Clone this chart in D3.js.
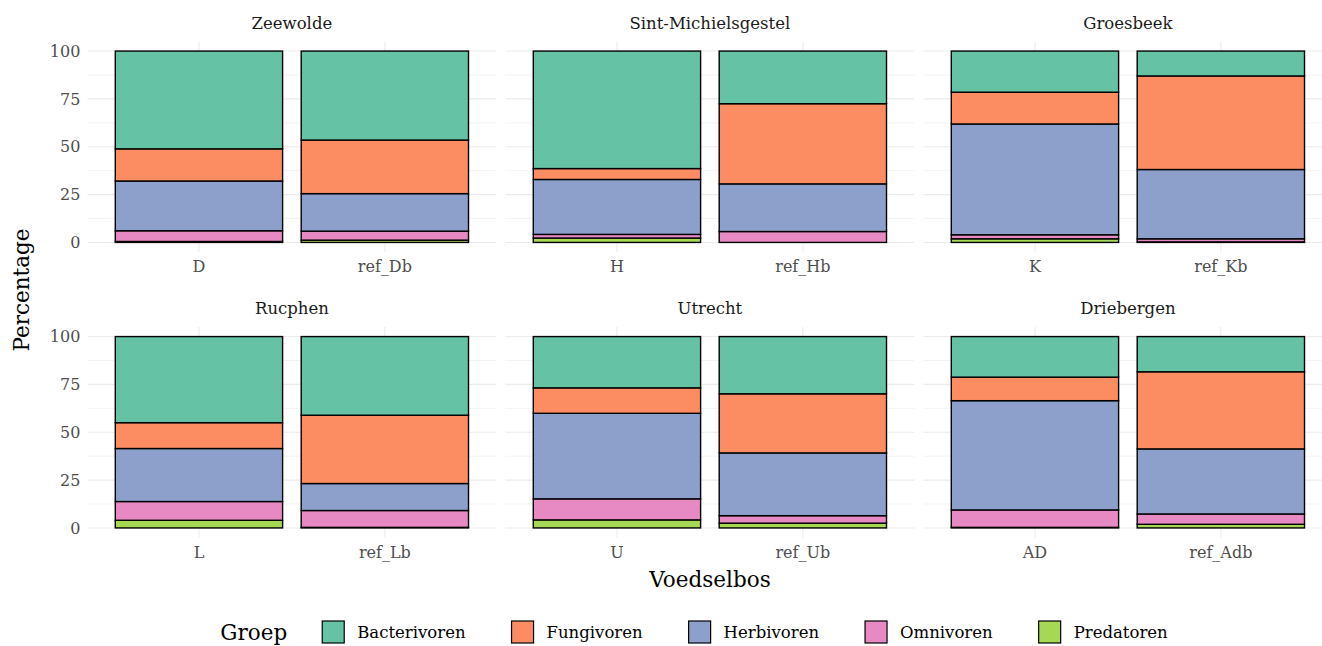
<!DOCTYPE html>
<html>
<head>
<meta charset="utf-8">
<script src="https://cdn.jsdelivr.net/npm/d3@7"></script>
<style>
  html, body { margin: 0; padding: 0; background: #fff; }
  svg { display: block; }
</style>
</head>
<body>
<svg id="chart" width="1322" height="646"></svg>
<script>
// ---- data ----
const sites = ["Zeewolde", "Sint-Michielsgestel", "Groesbeek", "Rucphen", "Utrecht", "Driebergen"];
const bossen = ["D", "ref_Db", "H", "ref_Hb", "K", "ref_Kb", "L", "ref_Lb", "U", "ref_Ub", "AD", "ref_Adb"];
const groepen = ["Bacterivoren", "Fungivoren", "Herbivoren", "Omnivoren", "Predatoren"];
const bacterivoren = [51.1, 46.5, 61.4, 27.5, 21.5, 13.0, 45.0, 41.1, 26.8, 29.9, 21.2, 18.4];
const fungivoren   = [16.8, 28.0, 5.7, 41.9, 16.6, 48.9, 13.5, 35.7, 13.3, 30.9, 12.3, 40.3];
const herbivoren   = [26.0, 19.6, 28.7, 24.9, 57.9, 36.2, 27.7, 14.1, 44.7, 32.8, 57.1, 34.0];
const omnivoren    = [5.6, 4.7, 1.9, 5.7, 2.1, 1.6, 9.8, 8.8, 11.0, 3.9, 9.1, 5.4];
const predatoren   = [0.5, 1.2, 2.3, 0.0, 1.9, 0.3, 4.0, 0.3, 4.2, 2.5, 0.3, 1.9];
const yTicks = [0, 25, 50, 75, 100];
const yMinor = [12.5, 37.5, 62.5, 87.5];

const colors = ["#66c2a5", "#fc8d62", "#8da0cb", "#e78ac3", "#a6d854"];
const seriesVals = [bacterivoren, fungivoren, herbivoren, omnivoren, predatoren];

const rows = bossen.map((b, i) => {
  const r = { bos: b, site: sites[Math.floor(i / 2)] };
  groepen.forEach((g, k) => r[g] = seriesVals[k][i]);
  return r;
});

const FONT = "'DejaVu Serif', 'Liberation Serif', serif";
const svg = d3.select("#chart");
const color = d3.scaleOrdinal().domain(groepen).range(colors);

// stacking: Predatoren at bottom, Bacterivoren on top
const stackKeys = groepen.slice().reverse();
const stack = d3.stack().keys(stackKeys);

// ---- layout ----
const panelW = 409, panelStep = 418, panelLeft0 = 87.4;
const rowTop = [41.5, 327], panelH = 210.5;

sites.forEach((site, si) => {
  const col = si % 3, row = Math.floor(si / 3);
  const x0 = panelLeft0 + col * panelStep;
  const top = rowTop[row];
  const cats = [bossen[si * 2], bossen[si * 2 + 1]];
  const data = rows.filter(r => r.site === site);

  const x = d3.scaleBand().domain(cats).range([x0, x0 + panelW]).paddingInner(0.1).paddingOuter(0.15);
  const y = d3.scaleLinear().domain([-5, 105]).range([top + panelH, top]);

  const g = svg.append("g");
  g.selectAll(".minor").data(yMinor).join("line")
    .attr("x1", x0).attr("x2", x0 + panelW)
    .attr("y1", d => y(d)).attr("y2", d => y(d))
    .attr("stroke", "#ebebeb").attr("stroke-width", 0.6);
  g.selectAll(".major").data(yTicks).join("line")
    .attr("x1", x0).attr("x2", x0 + panelW)
    .attr("y1", d => y(d)).attr("y2", d => y(d))
    .attr("stroke", "#ebebeb").attr("stroke-width", 1.1);
  g.selectAll(".vmajor").data(cats).join("line")
    .attr("x1", d => x(d) + x.bandwidth() / 2).attr("x2", d => x(d) + x.bandwidth() / 2)
    .attr("y1", top).attr("y2", top + panelH)
    .attr("stroke", "#ebebeb").attr("stroke-width", 1.1);

  const stacked = stack(data);
  stacked.forEach(layer => {
    g.append("g").selectAll("rect").data(layer).join("rect")
      .attr("x", d => x(d.data.bos))
      .attr("width", x.bandwidth())
      .attr("y", d => y(d[1]))
      .attr("height", d => Math.max(0, y(d[0]) - y(d[1])))
      .attr("fill", color(layer.key))
      .attr("stroke", "#000").attr("stroke-width", 1.4);
  });

  svg.append("text").attr("x", x0 + panelW / 2).attr("y", top - 13)
    .attr("text-anchor", "middle").attr("font-family", FONT).attr("font-size", 16.5)
    .attr("fill", "#1a1a1a").text(site);

  g.selectAll(".xt").data(cats).join("text")
    .attr("x", d => x(d) + x.bandwidth() / 2).attr("y", top + panelH + 20)
    .attr("text-anchor", "middle").attr("font-family", FONT).attr("font-size", 16)
    .attr("fill", "#4d4d4d").text(d => d);

  if (col === 0) {
    g.selectAll(".yt").data(yTicks).join("text")
      .attr("x", x0 - 7).attr("y", d => y(d)).attr("dy", "0.35em")
      .attr("text-anchor", "end").attr("font-family", FONT).attr("font-size", 16)
      .attr("fill", "#4d4d4d").text(d => d);
  }
});

// axis titles
svg.append("text").attr("x", 710).attr("y", 587)
  .attr("text-anchor", "middle").attr("font-family", FONT).attr("font-size", 21.5)
  .attr("fill", "#000").text("Voedselbos");
svg.append("text").attr("transform", "translate(29,290) rotate(-90)")
  .attr("text-anchor", "middle").attr("font-family", FONT).attr("font-size", 21.5)
  .attr("fill", "#000").text("Percentage");

// legend
const leg = svg.append("g");
const title = leg.append("text").attr("x", 0).attr("y", 640)
  .attr("font-family", FONT).attr("font-size", 21.5).attr("fill", "#000").text("Groep");
let cx = title.node().getComputedTextLength() + 35;
groepen.forEach(gname => {
  leg.append("rect").attr("x", cx).attr("y", 621).attr("width", 22).attr("height", 22)
    .attr("fill", color(gname)).attr("stroke", "#000").attr("stroke-width", 1.2);
  const t = leg.append("text").attr("x", cx + 35).attr("y", 637.5)
    .attr("font-family", FONT).attr("font-size", 16.5).attr("fill", "#000").text(gname);
  cx += 35 + t.node().getComputedTextLength() + 46;
});
const totalW = cx - 46;
leg.attr("transform", `translate(${694 - totalW / 2},0)`);
</script>
</body>
</html>
